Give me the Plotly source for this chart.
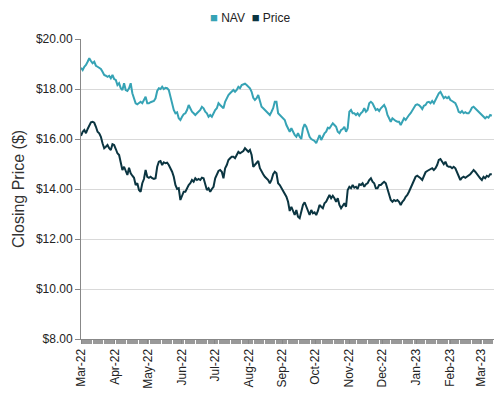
import pandas as pd
import plotly.graph_objects as go

start_date = "2022-03-01"
end_date = "2023-03-11"

nav = [
    18.85, 18.76, 18.89, 18.96, 19.09, 19.23, 19.12, 19.03, 19.09, 18.93,
    18.89, 18.83, 18.80, 18.69, 18.56, 18.53, 18.49, 18.53, 18.43, 18.56,
    18.40, 18.36, 18.16, 18.23, 18.03, 17.96, 18.23, 17.96, 17.92, 18.03,
    18.23, 17.83, 17.63, 17.43, 17.39, 17.43, 17.49, 17.43, 17.56, 17.69,
    17.43, 17.43, 17.47, 17.49, 17.52, 17.63, 17.92, 18.03, 18.00, 18.09,
    18.00, 18.05, 18.03, 17.96, 17.69, 17.43, 17.16, 17.03, 17.07, 16.83,
    16.76, 16.89, 16.99,
    17.03, 17.16, 17.36, 17.23, 17.09, 17.03, 16.96, 17.03, 17.09, 17.16,
    17.29, 17.23, 17.09, 17.03, 16.89, 16.96, 16.89, 17.03, 17.16, 17.23,
    17.43, 17.36, 17.29, 17.23, 17.49, 17.63, 17.76, 17.83, 17.89, 17.96,
    17.89, 17.96, 18.09, 18.03, 18.16, 18.19, 18.21, 18.16, 18.09, 18.03,
    17.89, 17.65, 17.56, 17.63, 17.76, 17.49, 17.29, 17.23, 17.16, 17.09,
    17.03, 16.96, 17.09, 17.23, 17.49, 17.49, 17.03, 16.96, 16.89, 16.83,
    16.76, 16.56, 16.43, 16.29,
    16.43, 16.29, 16.16, 16.09, 16.23, 16.09, 16.00, 16.43, 16.59, 16.49,
    16.29, 16.09, 16.00, 15.96, 15.92, 15.83, 16.03, 16.16, 15.96, 16.09,
    16.23, 16.29, 16.45, 16.43, 16.56, 16.63, 16.56, 16.49, 16.29, 16.23,
    16.36, 16.40, 16.49, 16.29, 16.43, 17.09, 17.16, 17.03, 17.03, 16.96,
    17.03, 16.93, 17.03, 17.09, 17.23, 17.09, 17.16, 17.43, 17.49, 17.43,
    17.29, 17.16, 17.20, 17.12, 17.23, 17.29, 17.36, 17.23, 16.96, 16.83,
    16.69, 16.83, 16.76, 16.72,
    16.69, 16.69, 16.56, 16.69, 16.83, 16.76, 16.89, 16.96, 17.03, 17.16,
    17.29, 17.36, 17.39, 17.36, 17.29, 17.20, 17.33, 17.36, 17.47, 17.49,
    17.43, 17.52, 17.43, 17.56, 17.73, 17.83, 17.89, 17.76, 17.63, 17.69,
    17.63, 17.69, 17.56, 17.52, 17.49, 17.43, 17.29, 17.09, 17.05, 17.12,
    17.03, 17.07, 17.03, 17.03, 17.12, 17.25, 17.29, 17.23, 17.16, 17.09,
    17.03, 16.96, 16.93, 16.83, 16.89, 16.85, 16.96, 16.93,
]

price = [
    16.13, 16.29, 16.36, 16.23, 16.40, 16.53, 16.67, 16.69, 16.65, 16.49,
    16.29, 16.23, 16.09, 15.83, 15.63, 15.69, 15.76, 15.63, 15.56, 15.79,
    15.76, 15.60, 15.43, 15.36, 15.09, 14.76, 14.89, 14.69, 14.56, 14.85,
    14.63, 14.53, 14.45, 14.16, 14.23, 13.96, 13.89, 14.23, 14.40, 14.76,
    14.49, 14.45, 14.49, 14.43, 14.40, 14.43, 14.89, 15.09, 15.12, 14.96,
    15.07, 15.03, 15.05, 14.96, 14.83, 14.69, 14.49, 14.16, 14.00, 14.03,
    13.56, 13.76, 13.89,
    13.89, 14.03, 14.16, 14.23, 14.36, 14.29, 14.43, 14.36, 14.40, 14.36,
    14.45, 14.43, 14.16, 13.96, 14.03, 13.89, 14.00, 14.09, 14.43, 14.56,
    14.72, 14.76, 14.69, 14.43, 14.83, 14.96, 15.16, 15.23, 15.29, 15.29,
    15.23, 15.36, 15.49, 15.43, 15.49, 15.52, 15.63, 15.56, 15.49, 15.56,
    15.36, 14.89, 14.96, 15.03, 15.12, 14.83, 14.69, 14.59, 14.49, 14.43,
    14.36, 14.23, 14.36, 14.59, 14.69, 14.63, 14.23, 14.16, 14.03, 13.89,
    13.76, 13.69, 13.49, 13.12,
    13.29, 13.09, 12.96, 13.16, 12.89, 12.83, 13.09, 13.36, 13.47, 13.29,
    13.12, 12.96, 13.16, 13.03, 13.07, 12.96, 13.12, 13.36, 13.29, 13.23,
    13.43, 13.49, 13.63, 13.76, 13.63, 13.73, 13.63, 13.49, 13.63, 13.36,
    13.23, 13.33, 13.43, 13.29, 13.96, 14.09, 14.03, 14.16, 14.05, 14.09,
    14.00, 14.19, 14.16, 14.23, 14.09, 14.19, 14.23, 14.36, 14.43, 14.29,
    14.23, 14.03, 14.03, 14.16, 14.16, 14.23, 14.29, 14.23, 14.03, 13.76,
    13.56, 13.49, 13.56, 13.52,
    13.56, 13.49, 13.36, 13.49, 13.56, 13.69, 13.76, 13.89, 14.03, 14.16,
    14.36, 14.49, 14.53, 14.49, 14.43, 14.36, 14.49, 14.67, 14.72, 14.76,
    14.80, 14.83, 14.76, 14.83, 14.96, 15.16, 15.20, 15.09, 14.99, 15.09,
    14.93, 14.89, 14.89, 14.83, 14.89, 14.83, 14.69, 14.49, 14.36, 14.45,
    14.49, 14.45, 14.49, 14.53, 14.59, 14.67, 14.76, 14.69, 14.59, 14.49,
    14.43, 14.36, 14.49, 14.43, 14.53, 14.49, 14.59, 14.59,
]

dates = pd.date_range(start_date, end_date, periods=len(nav))

series_names = ["NAV", "Price"]
nav_color = "#36A3B5"
price_color = "#0B3541"

fig = go.Figure()
fig.add_trace(go.Scatter(x=dates, y=nav, mode="lines", name=series_names[0],
                         line=dict(color=nav_color, width=2)))
fig.add_trace(go.Scatter(x=dates, y=price, mode="lines", name=series_names[1],
                         line=dict(color=price_color, width=2)))

legend_text = (
    f"<span style='color:{nav_color};font-size:13px'>■</span> {series_names[0]}"
    f"  <span style='color:{price_color};font-size:13px'>■</span> {series_names[1]}"
)
fig.add_annotation(text=legend_text, xref="paper", yref="paper",
                   x=0.5, y=1.0, xanchor="center", yanchor="bottom",
                   xshift=-37, yshift=12, showarrow=False,
                   font=dict(size=12, color="#222"))

# the page body adds an 8px offset; sizes compensate for it
fig.update_layout(
    width=494, height=389,
    margin=dict(l=73, r=8, t=31, b=58),
    paper_bgcolor="white", plot_bgcolor="white",
    font=dict(family="Liberation Sans, Arial, sans-serif", size=12, color="#222"),
    showlegend=False,
)

fig.update_xaxes(
    type="date",
    range=["2022-03-01", "2023-03-13"],
    dtick="M1", tick0="2022-03-01",
    tickformat="%b-%y", tickangle=-90,
    ticks="outside", ticklen=4, tickcolor="#888",
    minor=dict(dtick=86400000, ticks="outside", ticklen=4, tickcolor="#999"),
    showgrid=False, showline=True, linecolor="#888", linewidth=1,
    tickfont=dict(size=12, color="#222"),
    zeroline=False, automargin=False,
)
fig.update_yaxes(
    range=[8, 20], dtick=2, tickformat="$.2f",
    ticks="outside", ticklen=5, tickcolor="#888",
    showgrid=True, gridcolor="#d9d9d9", gridwidth=1,
    showline=True, linecolor="#888", linewidth=1,
    title=dict(text="Closing Price ($)", font=dict(size=16, color="#333"), standoff=7),
    tickfont=dict(size=12, color="#222"),
    zeroline=False, automargin=False,
)

fig.write_html("out.html")
